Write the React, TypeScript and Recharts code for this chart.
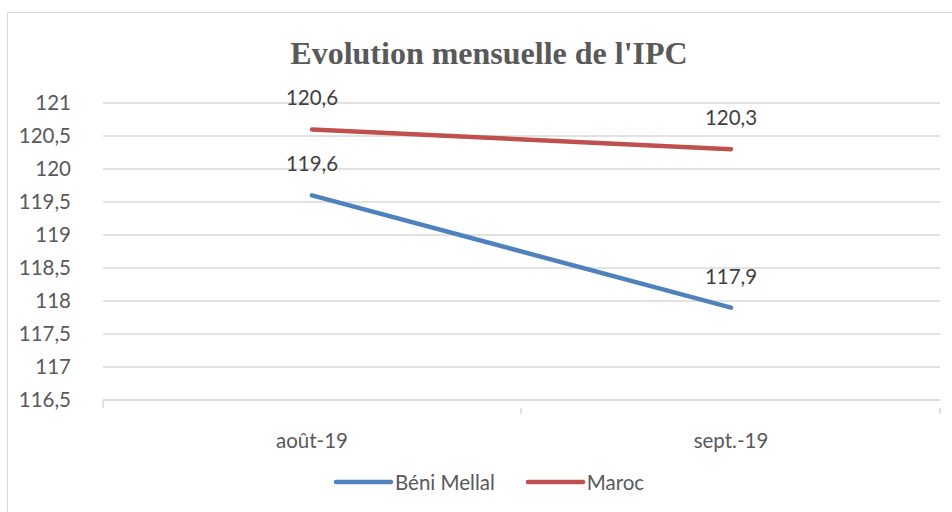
import { CartesianGrid, LabelList, Legend, Line, LineChart, XAxis, YAxis } from 'recharts'

const months = ['août-19', 'sept.-19']
const beniMellal = [119.6, 117.9]
const maroc = [120.6, 120.3]
const yTicks = [116.5, 117, 117.5, 118, 118.5, 119, 119.5, 120, 120.5, 121]

const data = months.map((m, i) => ({
	month: m,
	beni: beniMellal[i],
	maroc: maroc[i],
}))

const FONT = 'Lato, "Noto Sans", sans-serif'
const SIZE = 20.5
const fmt = (v: number) => String(v).replace('.', ',')

const XTick = (props: any) => {
	const { x, y, payload, index } = props
	const half = 209
	return (
		<g>
			<text
				x={x}
				y={y + 32}
				textAnchor='middle'
				dominantBaseline='central'
				fill='#595959'
				fontSize={SIZE}
				fontFamily={FONT}
			>
				{payload.value}
			</text>
			{index === 0 && (
				<line x1={x - half} x2={x - half} y1={y - 8} y2={y} stroke='#D9D9D9' strokeWidth={1.5} />
			)}
			<line x1={x + half} x2={x + half} y1={y} y2={y + 6} stroke='#D9D9D9' strokeWidth={1.5} />
		</g>
	)
}

const LegendBox = () => (
	<div
		style={{
			display: 'flex',
			justifyContent: 'flex-start',
			alignItems: 'center',
			paddingLeft: 333,
			fontFamily: FONT,
			fontSize: SIZE,
			color: '#595959',
		}}
	>
		{[
			{ name: 'Béni Mellal', color: '#4F81BD' },
			{ name: 'Maroc', color: '#C0504D' },
		].map(item => (
			<div key={item.name} style={{ display: 'flex', alignItems: 'center', marginRight: 30 }}>
				<svg width={62} height={10}>
					<line x1={3} x2={58} y1={5} y2={5} stroke={item.color} strokeWidth={4.5} strokeLinecap='round' />
				</svg>
				<span>{item.name}</span>
			</div>
		))}
	</div>
)

export default function App() {
	return (
		<div style={{ position: 'absolute', left: 0, top: 0, width: 952, height: 512, overflow: 'hidden', background: '#fff' }}>
			<div
				style={{
					position: 'absolute',
					left: 7,
					top: 12,
					width: 960,
					height: 520,
					border: '1.5px solid #D9D9D9',
				}}
			/>
			<div
				style={{
					position: 'absolute',
					left: 0,
					top: 35,
					width: 978,
					textAlign: 'center',
					fontFamily: '"Liberation Serif", "Times New Roman", serif',
					fontWeight: 'bold',
					fontSize: 32,
					color: '#595959',
				}}
			>
				Evolution mensuelle de l'IPC
			</div>
			<LineChart
				width={952}
				height={512}
				data={data}
				margin={{ top: 103, right: 12, left: 0, bottom: 0 }}
			>
				<CartesianGrid vertical={false} stroke='#D9D9D9' strokeWidth={1.5} />
				<XAxis
					dataKey='month'
					padding={{ left: 209, right: 209 }}
					axisLine={{ stroke: '#D9D9D9', strokeWidth: 1.5 }}
					tickLine={false}
					tick={<XTick />}
					height={84}
					interval={0}
				/>
				<YAxis
					domain={[116.5, 121]}
					ticks={yTicks}
					width={103}
					axisLine={false}
					tickLine={false}
					tickSize={0}
					tickMargin={32}
					tickFormatter={fmt}
					tick={{ fill: '#595959', fontSize: SIZE, fontFamily: FONT }}
				/>
				<Legend
					content={<LegendBox />}
					wrapperStyle={{ position: 'absolute', top: 470, left: 0, width: 952, height: 28 }}
				/>
				<Line
					dataKey='beni'
					name='Béni Mellal'
					stroke='#4F81BD'
					strokeWidth={4.5}
					strokeLinecap='round'
					dot={false}
					isAnimationActive={false}
				>
					<LabelList dataKey='beni' position='top' offset={24} formatter={fmt} fill='#404040' fontSize={SIZE} fontFamily={FONT} />
				</Line>
				<Line
					dataKey='maroc'
					name='Maroc'
					stroke='#C0504D'
					strokeWidth={4.5}
					strokeLinecap='round'
					dot={false}
					isAnimationActive={false}
				>
					<LabelList dataKey='maroc' position='top' offset={24} formatter={fmt} fill='#404040' fontSize={SIZE} fontFamily={FONT} />
				</Line>
			</LineChart>
		</div>
	)
}
